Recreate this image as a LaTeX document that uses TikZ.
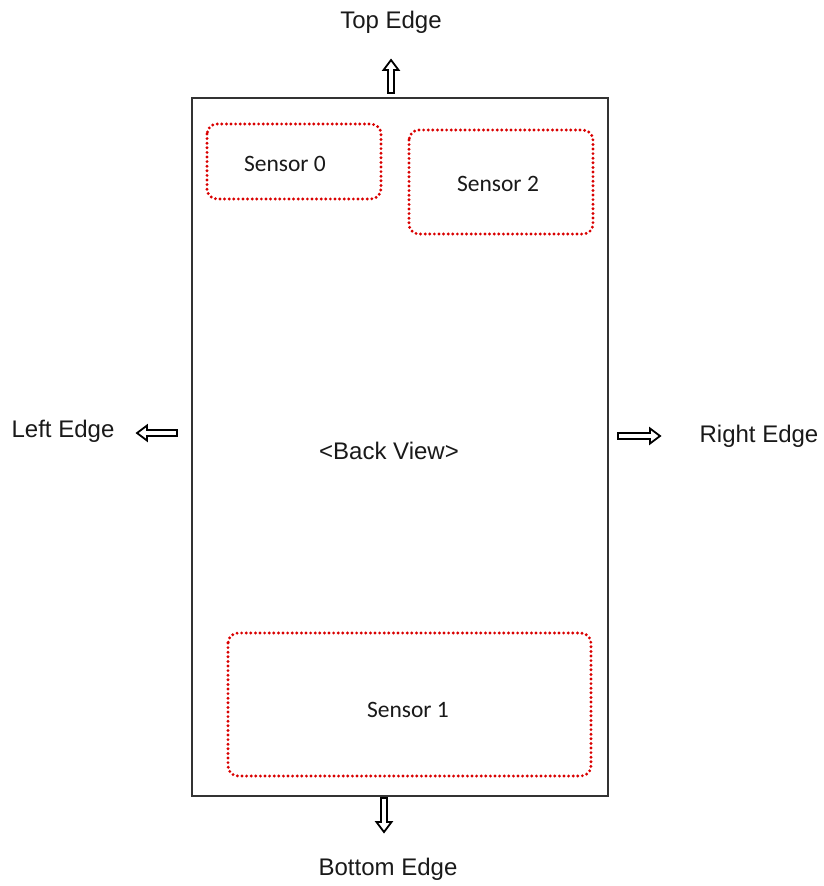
\documentclass[tikz,border=0pt]{standalone}
\usepackage{fontspec}
\newfontfamily\edgefont{Liberation Sans}
\newfontfamily\sensorfont{Carlito}
\begin{document}
\begin{tikzpicture}[x=1pt,y=-1pt,
  board/.style={draw=black!80,line width=1.8pt},
  sensorbox/.style={draw=red!85!black,line width=3.2pt,dash pattern=on 0pt off 4.6pt,line cap=round,rounded corners=10pt},
  sensorlabel/.style={font=\sensorfont\fontsize{23.5}{28}\selectfont,text=black!90},
  edgelabel/.style={font=\edgefont\fontsize{24}{28}\selectfont,text=black!90},
  openarrow/.style={draw=black,line width=1.8pt,fill=white,line join=miter}]
\useasboundingbox (0,0) rectangle (824,886);

% device outline
\draw[board] (192,98) rectangle (608,796);

% sensor windows
\draw[sensorbox] (207,124) rectangle (381,199);
\draw[sensorbox] (409,130) rectangle (593,234);
\draw[sensorbox] (228,633) rectangle (591,776);

\node[sensorlabel] (s0) at (285,164) {Sensor 0};
\node[sensorlabel] (s2) at (498,184) {Sensor 2};
\node[sensorlabel] (s1) at (408,710) {Sensor 1};

\node[edgelabel] (back) at (389,451) {<Back View>};

% edge labels
\node[edgelabel] (top) at (391,22) {Top Edge};
\node[edgelabel] (left) at (63,431) {Left Edge};
\node[edgelabel] (right) at (759,436) {Right Edge};
\node[edgelabel] (bottom) at (388,869) {Bottom Edge};

% hollow block arrows: tail point, direction angle, length
\newcommand\blockarrow[4]{%
  \begin{scope}[shift={(#1,#2)},rotate=#3]
    \draw[openarrow] (0,-3) -- (#4-10,-3) -- (#4-10,-7.5) -- (#4,0)
      -- (#4-10,7.5) -- (#4-10,3) -- (0,3) -- cycle;
  \end{scope}}
\blockarrow{391}{93}{90}{33}
\blockarrow{384}{798}{-90}{34}
\blockarrow{177}{433}{180}{40}
\blockarrow{618}{436}{0}{42}
\end{tikzpicture}
\end{document}
